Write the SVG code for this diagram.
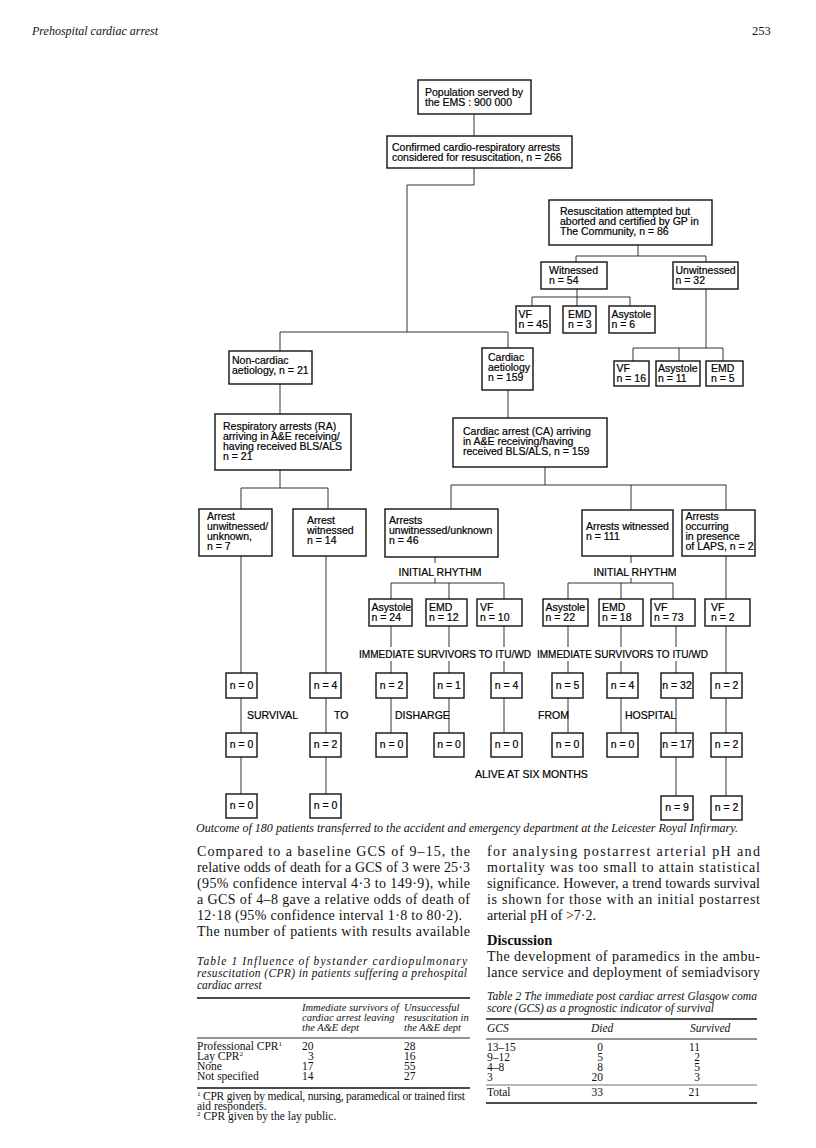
<svg xmlns="http://www.w3.org/2000/svg" width="816" height="1148" viewBox="0 0 816 1148">
<style>
.bg{fill:#fff}
.box{fill:#fff;stroke:#111;stroke-width:1.4}
.ln{fill:none;stroke:#333;stroke-width:1}
.t{font-family:"Liberation Sans",Arial,sans-serif;font-size:10.5px;fill:#000;stroke:#000;stroke-width:0.2}
.c{text-anchor:middle}
.lab{font-family:"Liberation Sans",Arial,sans-serif;font-size:10.5px;fill:#000;stroke:#000;stroke-width:0.2}
.s{font-family:"Liberation Serif","Times New Roman",serif;fill:#111}
.body{font-size:14px}
.it{font-style:italic}
.rule{stroke:#111;fill:none}
</style>
<rect class="bg" x="0" y="0" width="816" height="1148"/>
<text class="s it" x="32" y="35" font-size="12">Prehospital cardiac arrest</text>
<text class="s" x="752" y="35" font-size="12.5">253</text>

<g id="connectors">
<path class="ln" d="M474 114V136 M474 168V185H407V332 M280 332H508 M280 332V351 M508 332V348"/>
<path class="ln" d="M638 245V256 M576 256H706 M576 256V262 M706 256V262"/>
<path class="ln" d="M577 289V297 M532 297H630 M532 297V306 M577 297V306 M630 297V306"/>
<path class="ln" d="M706 289V348 M633 348H723 M633 348V361 M679 348V361 M723 348V361"/>
<path class="ln" d="M280 384V414 M280 470V488 M241 488H328 M241 488V509 M328 488V509"/>
<path class="ln" d="M508 390V418 M545 467V485 M451 485H726 M451 485V509 M631 485V510 M726 485V510"/>
<path class="ln" d="M435 557V563 M435 578V583 M391 583H504 M391 583V599 M449 583V599 M504 583V599"/>
<path class="ln" d="M631 556V563 M631 578V583 M568 583H673 M568 583V599 M621 583V599 M673 583V599"/>
<path class="ln" d="M726 556V599"/>
<path class="ln" d="M241 556V673 M241 698V733 M241 757V794 M326 556V673 M326 698V733 M326 757V794"/>
<path class="ln" d="M391 626V647 M391 661V673 M391 698V733 M449 626V647 M449 661V673 M449 698V733 M504 626V647 M504 661V673 M504 698V733"/>
<path class="ln" d="M568 626V647 M568 661V673 M568 698V733 M621 626V647 M621 661V673 M621 698V733 M676 626V647 M676 661V673 M676 698V733 M676 757V796"/>
<path class="ln" d="M726 626V673 M726 698V733 M726 757V796"/>
</g>

<g id="n-population"><rect class="box" x="418" y="80" width="113" height="34"/><text class="t" x="425" y="96">Population served by</text><text class="t" x="425" y="106">the EMS : 900 000</text></g>
<g id="n-confirmed"><rect class="box" x="387" y="136" width="185" height="32"/><text class="t" x="392" y="151">Confirmed cardio-respiratory arrests</text><text class="t" x="392" y="161">considered for resuscitation, n = 266</text></g>
<g id="n-resus"><rect class="box" x="549" y="200" width="163" height="45"/><text class="t" x="560" y="215">Resuscitation attempted but</text><text class="t" x="560" y="225">aborted and certified by GP in</text><text class="t" x="560" y="235">The Community, n = 86</text></g>
<g id="n-witnessed"><rect class="box" x="541" y="262" width="66" height="27"/><text class="t" x="549" y="274">Witnessed</text><text class="t" x="549" y="284">n = 54</text></g>
<g id="n-unwitnessed"><rect class="box" x="673" y="262" width="65" height="27"/><text class="t" x="675.5" y="274">Unwitnessed</text><text class="t" x="675.5" y="284">n = 32</text></g>
<g id="n-vf45"><rect class="box" x="516" y="306" width="34" height="27"/><text class="t" x="518.5" y="318">VF</text><text class="t" x="518.5" y="328">n = 45</text></g>
<g id="n-emd3"><rect class="box" x="563" y="306" width="33" height="27"/><text class="t" x="568" y="318">EMD</text><text class="t" x="568" y="328">n = 3</text></g>
<g id="n-asys6"><rect class="box" x="609" y="306" width="46" height="27"/><text class="t" x="611.5" y="318">Asystole</text><text class="t" x="611.5" y="328">n = 6</text></g>
<g id="n-vf16"><rect class="box" x="614" y="361" width="35" height="25"/><text class="t" x="616.5" y="372">VF</text><text class="t" x="616.5" y="382">n = 16</text></g>
<g id="n-asys11"><rect class="box" x="656" y="361" width="44" height="25"/><text class="t" x="658" y="372">Asystole</text><text class="t" x="658" y="382">n = 11</text></g>
<g id="n-emd5"><rect class="box" x="706" y="361" width="37" height="25"/><text class="t" x="711" y="372">EMD</text><text class="t" x="711" y="382">n = 5</text></g>
<g id="n-noncardiac"><rect class="box" x="229" y="351" width="83" height="33"/><text class="t" x="232" y="364">Non-cardiac</text><text class="t" x="232" y="374">aetiology, n = 21</text></g>
<g id="n-cardiac"><rect class="box" x="482" y="348" width="51" height="42"/><text class="t" x="488" y="361">Cardiac</text><text class="t" x="488" y="371">aetiology</text><text class="t" x="488" y="381">n = 159</text></g>
<g id="n-ra"><rect class="box" x="215" y="414" width="136" height="56"/><text class="t" x="223" y="430">Respiratory arrests (RA)</text><text class="t" x="223" y="440">arriving in A&amp;E receiving/</text><text class="t" x="223" y="450">having received BLS/ALS</text><text class="t" x="223" y="460">n = 21</text></g>
<g id="n-ca"><rect class="box" x="453" y="418" width="154" height="49"/><text class="t" x="463" y="435">Cardiac arrest (CA) arriving</text><text class="t" x="463" y="445">in A&amp;E receiving/having</text><text class="t" x="463" y="455">received BLS/ALS, n = 159</text></g>
<g id="n-arrest-unwit"><rect class="box" x="199" y="509" width="73" height="47"/><text class="t" x="207" y="520">Arrest</text><text class="t" x="207" y="530">unwitnessed/</text><text class="t" x="207" y="540">unknown,</text><text class="t" x="207" y="550">n = 7</text></g>
<g id="n-arrest-wit"><rect class="box" x="293" y="509" width="73" height="47"/><text class="t" x="307" y="524">Arrest</text><text class="t" x="307" y="534">witnessed</text><text class="t" x="307" y="544">n = 14</text></g>
<g id="n-arrests-unwit"><rect class="box" x="385" y="509" width="113" height="48"/><text class="t" x="389" y="524">Arrests</text><text class="t" x="389" y="534">unwitnessed/unknown</text><text class="t" x="389" y="544">n = 46</text></g>
<g id="n-arrests-wit"><rect class="box" x="582" y="510" width="91" height="46"/><text class="t" x="586" y="530">Arrests witnessed</text><text class="t" x="586" y="540">n = 111</text></g>
<g id="n-laps"><rect class="box" x="682" y="510" width="73" height="46"/><text class="t" x="685.5" y="520">Arrests</text><text class="t" x="685.5" y="530">occurring</text><text class="t" x="685.5" y="540">in presence</text><text class="t" x="685.5" y="550">of LAPS, n = 2</text></g>

<g id="n-asys24"><rect class="box" x="369" y="599" width="43" height="27"/><text class="t" x="371.5" y="611">Asystole</text><text class="t" x="371.5" y="621">n = 24</text></g>
<g id="n-emd12"><rect class="box" x="426" y="599" width="41" height="27"/><text class="t" x="429" y="611">EMD</text><text class="t" x="429" y="621">n = 12</text></g>
<g id="n-vf10"><rect class="box" x="477" y="599" width="45" height="27"/><text class="t" x="480" y="611">VF</text><text class="t" x="480" y="621">n = 10</text></g>
<g id="n-asys22"><rect class="box" x="543" y="599" width="45" height="27"/><text class="t" x="545.5" y="611">Asystole</text><text class="t" x="545.5" y="621">n = 22</text></g>
<g id="n-emd18"><rect class="box" x="599" y="599" width="44" height="27"/><text class="t" x="602" y="611">EMD</text><text class="t" x="602" y="621">n = 18</text></g>
<g id="n-vf73"><rect class="box" x="651" y="599" width="44" height="27"/><text class="t" x="654" y="611">VF</text><text class="t" x="654" y="621">n = 73</text></g>
<g id="n-vf2"><rect class="box" x="705" y="599" width="45" height="27"/><text class="t" x="711" y="611">VF</text><text class="t" x="711" y="621">n = 2</text></g>

<g id="n-r1-1"><rect class="box" x="226" y="673" width="31" height="25"/><text class="t c" x="241.5" y="689">n = 0</text></g>
<g id="n-r1-2"><rect class="box" x="310" y="673" width="31" height="25"/><text class="t c" x="325.5" y="689">n = 4</text></g>
<g id="n-r1-3"><rect class="box" x="376" y="673" width="31" height="25"/><text class="t c" x="391.5" y="689">n = 2</text></g>
<g id="n-r1-4"><rect class="box" x="434" y="673" width="30" height="25"/><text class="t c" x="449" y="689">n = 1</text></g>
<g id="n-r1-5"><rect class="box" x="491" y="673" width="31" height="25"/><text class="t c" x="506.5" y="689">n = 4</text></g>
<g id="n-r1-6"><rect class="box" x="552" y="673" width="31" height="25"/><text class="t c" x="567.5" y="689">n = 5</text></g>
<g id="n-r1-7"><rect class="box" x="607" y="673" width="31" height="25"/><text class="t c" x="622.5" y="689">n = 4</text></g>
<g id="n-r1-8"><rect class="box" x="661" y="673" width="32" height="25"/><text class="t c" x="677" y="689">n = 32</text></g>
<g id="n-r1-9"><rect class="box" x="711" y="673" width="31" height="25"/><text class="t c" x="726.5" y="689">n = 2</text></g>

<g id="n-r2-1"><rect class="box" x="226" y="733" width="31" height="24"/><text class="t c" x="241.5" y="748">n = 0</text></g>
<g id="n-r2-2"><rect class="box" x="310" y="733" width="31" height="24"/><text class="t c" x="325.5" y="748">n = 2</text></g>
<g id="n-r2-3"><rect class="box" x="376" y="733" width="31" height="24"/><text class="t c" x="391.5" y="748">n = 0</text></g>
<g id="n-r2-4"><rect class="box" x="434" y="733" width="30" height="24"/><text class="t c" x="449" y="748">n = 0</text></g>
<g id="n-r2-5"><rect class="box" x="491" y="733" width="31" height="24"/><text class="t c" x="506.5" y="748">n = 0</text></g>
<g id="n-r2-6"><rect class="box" x="552" y="733" width="31" height="24"/><text class="t c" x="567.5" y="748">n = 0</text></g>
<g id="n-r2-7"><rect class="box" x="607" y="733" width="31" height="24"/><text class="t c" x="622.5" y="748">n = 0</text></g>
<g id="n-r2-8"><rect class="box" x="661" y="733" width="32" height="24"/><text class="t c" x="677" y="748">n = 17</text></g>
<g id="n-r2-9"><rect class="box" x="711" y="733" width="31" height="24"/><text class="t c" x="726.5" y="748">n = 2</text></g>

<g id="n-r3-1"><rect class="box" x="226" y="794" width="31" height="24"/><text class="t c" x="241.5" y="809">n = 0</text></g>
<g id="n-r3-2"><rect class="box" x="310" y="794" width="31" height="24"/><text class="t c" x="325.5" y="809">n = 0</text></g>
<g id="n-r3-8"><rect class="box" x="661" y="796" width="32" height="24"/><text class="t c" x="677" y="811">n = 9</text></g>
<g id="n-r3-9"><rect class="box" x="711" y="796" width="31" height="24"/><text class="t c" x="726.5" y="811">n = 2</text></g>

<g id="labels">
<text class="lab c" x="440" y="576">INITIAL RHYTHM</text>
<text class="lab c" x="635" y="576">INITIAL RHYTHM</text>
<text class="lab" x="359" y="658" textLength="172" lengthAdjust="spacingAndGlyphs">IMMEDIATE SURVIVORS TO ITU/WD</text>
<text class="lab" x="537" y="658" textLength="171" lengthAdjust="spacingAndGlyphs">IMMEDIATE SURVIVORS TO ITU/WD</text>
<text class="lab" x="247" y="719">SURVIVAL</text>
<text class="lab" x="334" y="719">TO</text>
<text class="lab" x="395" y="719">DISHARGE</text>
<text class="lab" x="538" y="719">FROM</text>
<text class="lab" x="625" y="719">HOSPITAL</text>
<text class="lab" x="475" y="778">ALIVE AT SIX MONTHS</text>
</g>

<text class="s it" x="196" y="832" font-size="11.5" textLength="542" lengthAdjust="spacingAndGlyphs">Outcome of 180 patients transferred to the accident and emergency department at the Leicester Royal Infirmary.</text>

<g id="body-left" class="s body">
<text x="197" y="856" textLength="273" lengthAdjust="spacing">Compared to a baseline GCS of 9–15, the</text>
<text x="197" y="872" textLength="273" lengthAdjust="spacing">relative odds of death for a GCS of 3 were 25·3</text>
<text x="197" y="888" textLength="273" lengthAdjust="spacing">(95% confidence interval 4·3 to 149·9), while</text>
<text x="197" y="904" textLength="273" lengthAdjust="spacing">a GCS of 4–8 gave a relative odds of death of</text>
<text x="197" y="920" textLength="265" lengthAdjust="spacing">12·18 (95% confidence interval 1·8 to 80·2).</text>
<text x="197" y="936" textLength="273" lengthAdjust="spacing">The number of patients with results available</text>
</g>
<g id="body-right" class="s body">
<text x="487" y="856" textLength="273" lengthAdjust="spacing">for analysing postarrest arterial pH and</text>
<text x="487" y="872" textLength="273" lengthAdjust="spacing">mortality was too small to attain statistical</text>
<text x="487" y="888" textLength="273" lengthAdjust="spacing">significance. However, a trend towards survival</text>
<text x="487" y="904" textLength="273" lengthAdjust="spacing">is shown for those with an initial postarrest</text>
<text x="487" y="920">arterial pH of &gt;7·2.</text>
<text x="487" y="945" font-weight="bold" font-size="14.5">Discussion</text>
<text x="487" y="961" textLength="273" lengthAdjust="spacing">The development of paramedics in the ambu-</text>
<text x="487" y="977" textLength="273" lengthAdjust="spacing">lance service and deployment of semiadvisory</text>
</g>

<g id="table1" class="s">
<text class="it" x="197" y="965" font-size="11.5" textLength="270" lengthAdjust="spacing">Table 1    Influence of bystander cardiopulmonary</text>
<text class="it" x="197" y="977" font-size="11.5" textLength="270" lengthAdjust="spacing">resuscitation (CPR) in patients suffering a prehospital</text>
<text class="it" x="197" y="989" font-size="11.5">cardiac arrest</text>
<line class="rule" x1="197" y1="998" x2="470" y2="998" stroke-width="1.4"/>
<text class="it" x="302" y="1011" font-size="10.5">Immediate survivors of</text>
<text class="it" x="302" y="1021" font-size="10.5">cardiac arrest leaving</text>
<text class="it" x="302" y="1031" font-size="10.5">the A&amp;E dept</text>
<text class="it" x="404" y="1011" font-size="10.5">Unsuccessful</text>
<text class="it" x="404" y="1021" font-size="10.5">resuscitation in</text>
<text class="it" x="404" y="1031" font-size="10.5">the A&amp;E dept</text>
<line class="rule" x1="197" y1="1038" x2="470" y2="1038" stroke-width="0.9"/>
<g font-size="11.5">
<text x="197" y="1050">Professional CPR<tspan font-size="7" dy="-4">1</tspan></text>
<text x="197" y="1060">Lay CPR<tspan font-size="7" dy="-4">2</tspan></text>
<text x="197" y="1070">None</text>
<text x="197" y="1080">Not specified</text>
<text x="302" y="1050">20</text><text x="308" y="1060">3</text><text x="302" y="1070">17</text><text x="302" y="1080">14</text>
<text x="404" y="1050">28</text><text x="404" y="1060">16</text><text x="404" y="1070">55</text><text x="404" y="1080">27</text>
</g>
<line class="rule" x1="197" y1="1088" x2="470" y2="1088" stroke-width="1.4"/>
<g font-size="11.5">
<text x="197" y="1100" textLength="268" lengthAdjust="spacing"><tspan font-size="7" dy="-4">1</tspan><tspan dy="4"> CPR given by medical, nursing, paramedical or trained first</tspan></text>
<text x="197" y="1110">aid responders.</text>
<text x="197" y="1120"><tspan font-size="7" dy="-4">2</tspan><tspan dy="4"> CPR given by the lay public.</tspan></text>
</g>
</g>

<g id="table2" class="s">
<text class="it" x="487" y="1000" font-size="11.5" textLength="270" lengthAdjust="spacing">Table 2    The immediate post cardiac arrest Glasgow coma</text>
<text class="it" x="487" y="1012" font-size="11.5">score (GCS) as a prognostic indicator of survival</text>
<line class="rule" x1="486" y1="1019" x2="757" y2="1019" stroke-width="1.4"/>
<text class="it" x="487" y="1032" font-size="11.5">GCS</text>
<text class="it" x="591" y="1032" font-size="11.5">Died</text>
<text class="it" x="690" y="1032" font-size="11.5">Survived</text>
<line class="rule" x1="486" y1="1039" x2="757" y2="1039" stroke-width="0.9"/>
<g font-size="11.5">
<text x="487" y="1051">13–15</text><text x="487" y="1061">9–12</text><text x="487" y="1071">4–8</text><text x="487" y="1081">3</text>
<g text-anchor="end"><text x="603" y="1051">0</text><text x="603" y="1061">5</text><text x="603" y="1071">8</text><text x="603" y="1081">20</text>
<text x="700" y="1051">11</text><text x="700" y="1061">2</text><text x="700" y="1071">5</text><text x="700" y="1081">3</text></g>
</g>
<line class="rule" x1="486" y1="1085" x2="757" y2="1085" stroke-width="0.6"/>
<g font-size="11.5"><text x="487" y="1096">Total</text><text x="603" y="1096" text-anchor="end">33</text><text x="700" y="1096" text-anchor="end">21</text></g>
<line class="rule" x1="486" y1="1103" x2="757" y2="1103" stroke-width="1.4"/>
</g>
</svg>
